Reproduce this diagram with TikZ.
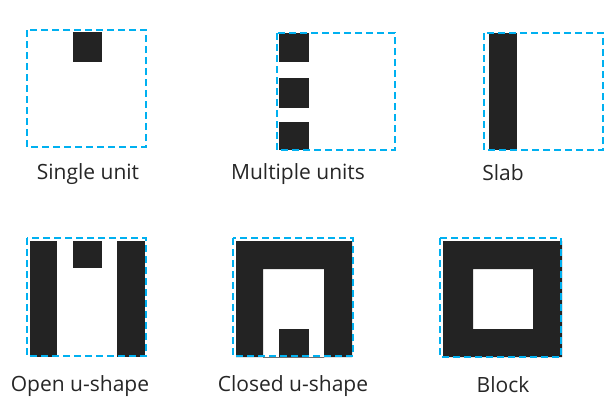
\documentclass[tikz,border=0pt]{standalone}
\usepackage{fontspec}
\setmainfont{Open Sans}
\definecolor{frameblue}{RGB}{0,176,240}
\definecolor{unitblack}{RGB}{35,35,35}
\tikzset{
  brick/.style={fill=unitblack},
  outline/.style={draw=frameblue,line width=2.6pt,dash pattern=on 7pt off 4pt},
  caption/.style={anchor=base,font=\fontsize{21}{24}\selectfont,text=black!85}
}
\begin{document}
\begin{tikzpicture}[x=1pt,y=-1pt]
\useasboundingbox (0,0) rectangle (605,410);
\begin{scope}
\fill[brick] (73,32) rectangle (102,62);
\draw[outline] (27,30) rectangle (146,147);
\node[caption] (single) at (88,179) {Single unit};
\end{scope}
\begin{scope}
\fill[brick] (279,33) rectangle (309,62);
\fill[brick] (279,78) rectangle (309,108);
\fill[brick] (279,122) rectangle (309,150);
\draw[outline] (277,33) rectangle (395,150);
\node[caption] (multiple) at (298,179) {Multiple units};
\end{scope}
\begin{scope}
\fill[brick] (489,33) rectangle (517,150);
\draw[outline] (484,33) rectangle (603,150);
\node[caption] (slab) at (503,180) {Slab};
\end{scope}
\begin{scope}
\fill[brick] (30,241) rectangle (57,357);
\fill[brick] (73,241) rectangle (102,268);
\fill[brick] (117,241) rectangle (145,357);
\draw[outline] (27,238) rectangle (146,356);
\node[caption] (open) at (80,391) {Open u-shape};
\end{scope}
\begin{scope}
\fill[brick,even odd rule] (236,241) rectangle (352,357) (263,269) rectangle (324,357.5);
\fill[brick] (279,329) rectangle (309,357);
\draw[outline] (233,238) rectangle (353,356);
\node[caption] (closed) at (293,391) {Closed u-shape};
\end{scope}
\begin{scope}
\fill[brick,even odd rule] (443,241) rectangle (562,357) (473,269) rectangle (533,329);
\draw[outline] (440,238) rectangle (561,357);
\node[caption] (block) at (503,392) {Block};
\end{scope}
\end{tikzpicture}
\end{document}
